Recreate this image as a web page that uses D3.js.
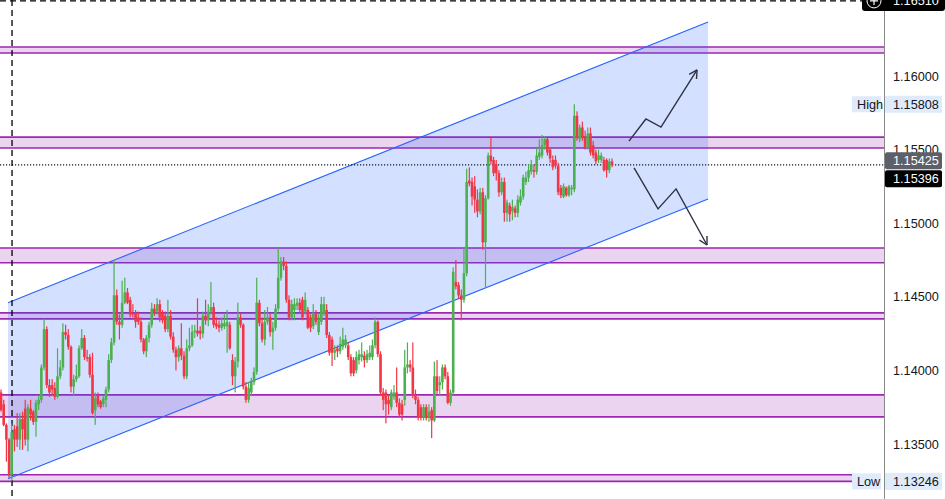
<!DOCTYPE html>
<html><head><meta charset="utf-8">
<script src="https://cdn.jsdelivr.net/npm/d3@7"></script>
<style>html,body{margin:0;padding:0;background:#fff;overflow:hidden}</style>
</head><body>
<svg id="c" width="945" height="499"></svg>
<script>
const opens = [
1.1385,1.1377,1.1363,1.1353,1.1329,1.1360,1.1362,1.1353,1.1367,1.1374,
1.1353,1.1374,1.1372,1.1365,1.1377,1.1380,1.1402,1.1428,1.1390,1.1390,
1.1388,1.1382,1.1396,1.1402,1.1426,1.1424,1.1416,1.1389,1.1394,1.1396,
1.1415,1.1422,1.1409,1.1409,1.1397,1.1373,1.1383,1.1379,1.1377,1.1380,
1.1387,1.1407,1.1419,1.1451,1.1433,1.1431,1.1446,1.1453,1.1448,1.1439,
1.1439,1.1436,1.1433,1.1421,1.1413,1.1422,1.1431,1.1442,1.1440,1.1445,
1.1439,1.1437,1.1428,1.1437,1.1423,1.1414,1.1409,1.1415,1.1410,1.1396,
1.1415,1.1417,1.1426,1.1427,1.1427,1.1425,1.1437,1.1434,1.1440,1.1443,
1.1432,1.1431,1.1429,1.1430,1.1430,1.1431,1.1407,1.1396,1.1406,1.1436,
1.1431,1.1389,1.1380,1.1385,1.1392,1.1399,1.1446,1.1432,1.1421,1.1433,
1.1436,1.1426,1.1429,1.1442,1.1463,1.1474,1.1471,1.1448,1.1436,1.1441,
1.1444,1.1446,
1.1448,1.1440,1.1441,1.1436,1.1430,1.1439,1.1426,1.1433,1.1439,1.1441,
1.1424,1.1421,1.1412,1.1415,1.1413,1.1416,1.1417,1.1417,1.1409,1.1407,
1.1400,1.1407,1.1409,1.1410,1.1407,1.1409,1.1409,1.1417,1.1433,1.1411,
1.1385,1.1385,1.1380,1.1375,1.1382,1.1385,1.1378,1.1377,1.1380,1.1402,
1.1404,1.1402,1.1383,1.1380,1.1375,1.1368,1.1375,1.1368,1.1373,1.1366,
1.1396,1.1390,1.1392,1.1402,1.1396,1.1378,1.1385,1.1460,1.1458,1.1451,
1.1448,1.1466,1.1529,1.1528,1.1525,1.1516,1.1508,1.1521,1.1487,1.1517,
1.1546,1.1543,1.1540,1.1534,1.1521,1.1528,1.1507,1.1512,1.1508,1.1510,
1.1507,1.1514,1.1518,1.1528,1.1531,1.1535,1.1536,1.1535,1.1545,1.1546,
1.1553,1.1557,1.1550,1.1543,1.1543,1.1539,1.1524,1.1518,1.1524,1.1519,
1.1523,1.1523,1.1573,1.1557,1.1565,1.1558,1.1551,1.1561,1.1553,1.1548,
1.1543,1.1543,1.1543,1.1543,1.1536,1.1542];
const highs = [
1.1387,1.1380,1.1364,1.1354,1.1364,1.1363,1.1371,1.1371,1.1372,1.1380,
1.1377,1.1380,1.1373,1.1380,1.1383,1.1404,1.1435,1.1430,1.1394,1.1394,
1.1392,1.1415,1.1407,1.1432,1.1431,1.1428,1.1417,1.1397,1.1404,1.1417,
1.1428,1.1424,1.1414,1.1411,1.1412,1.1385,1.1385,1.1380,1.1383,1.1389,
1.1411,1.1422,1.1475,1.1455,1.1438,1.1461,1.1463,1.1456,1.1450,1.1445,
1.1441,1.1440,1.1436,1.1422,1.1424,1.1433,1.1446,1.1445,1.1449,1.1448,
1.1441,1.1440,1.1448,1.1441,1.1426,1.1416,1.1417,1.1432,1.1413,1.1421,
1.1429,1.1431,1.1431,1.1449,1.1430,1.1440,1.1448,1.1445,1.1460,1.1446,
1.1436,1.1434,1.1436,1.1438,1.1441,1.1433,1.1411,1.1409,1.1446,1.1439,
1.1432,1.1392,1.1392,1.1395,1.1402,1.1463,1.1448,1.1436,1.1441,1.1443,
1.1439,1.1433,1.1445,1.1483,1.1477,1.1477,1.1474,1.1451,1.1448,1.1449,
1.1449,1.1449,
1.1450,1.1453,1.1443,1.1438,1.1445,1.1441,1.1438,1.1450,1.1450,1.1445,
1.1426,1.1423,1.1417,1.1417,1.1423,1.1429,1.1424,1.1419,1.1411,1.1409,
1.1413,1.1414,1.1419,1.1413,1.1414,1.1417,1.1421,1.1436,1.1434,1.1413,
1.1388,1.1387,1.1383,1.1387,1.1390,1.1402,1.1381,1.1380,1.1414,1.1419,
1.1407,1.1419,1.1387,1.1382,1.1377,1.1377,1.1377,1.1377,1.1375,1.1406,
1.1407,1.1396,1.1404,1.1404,1.1399,1.1387,1.1470,1.1475,1.1460,1.1455,
1.1484,1.1537,1.1538,1.1531,1.1532,1.1523,1.1524,1.1524,1.1519,1.1548,
1.1559,1.1545,1.1543,1.1536,1.1531,1.1531,1.1516,1.1514,1.1516,1.1512,
1.1519,1.1523,1.1533,1.1535,1.1540,1.1543,1.1540,1.1551,1.1557,1.1560,
1.1559,1.1558,1.1551,1.1546,1.1546,1.1541,1.1526,1.1527,1.1525,1.1526,
1.1526,1.15808,1.1576,1.1567,1.1569,1.1563,1.1565,1.1565,1.1556,1.1550,
1.1550,1.1548,1.1545,1.1544,1.1544,1.1544];
const lows = [
1.1372,1.1362,1.1338,1.1327,1.13246,1.1345,1.1348,1.1346,1.1346,1.1349,
1.1345,1.1366,1.1363,1.1355,1.1373,1.1378,1.1400,1.1388,1.1382,1.1383,
1.1380,1.1381,1.1394,1.1400,1.1421,1.1414,1.1385,1.1383,1.1392,1.1395,
1.1414,1.1407,1.1406,1.1395,1.1370,1.1363,1.1375,1.1374,1.1375,1.1375,
1.1385,1.1405,1.1417,1.1431,1.1421,1.1429,1.1445,1.1445,1.1436,1.1436,
1.1429,1.1431,1.1419,1.1411,1.1409,1.1419,1.1429,1.1437,1.1438,1.1433,
1.1432,1.1426,1.1426,1.1421,1.1412,1.1400,1.1406,1.1407,1.1394,1.1394,
1.1413,1.1416,1.1422,1.1423,1.1421,1.1422,1.1431,1.1430,1.1438,1.1429,
1.1428,1.1426,1.1427,1.1428,1.1412,1.1414,1.1390,1.1385,1.1402,1.1429,
1.1387,1.1378,1.1378,1.1383,1.1390,1.1397,1.1430,1.1419,1.1417,1.1431,
1.1423,1.1414,1.1427,1.1440,1.1461,1.1468,1.1446,1.1434,1.1434,1.1434,
1.1441,1.1439,
1.1434,1.1438,1.1428,1.1426,1.1428,1.1431,1.1424,1.1431,1.1437,1.1422,
1.1410,1.1403,1.1407,1.1409,1.1411,1.1414,1.1415,1.1407,1.1396,1.1396,
1.1398,1.1404,1.1406,1.1402,1.1405,1.1407,1.1407,1.1415,1.1409,1.1383,
1.1373,1.1364,1.1370,1.1373,1.1380,1.1375,1.1368,1.1366,1.1376,1.1398,
1.1399,1.1381,1.1377,1.1366,1.1366,1.1366,1.1366,1.1365,1.1354,1.1365,
1.1384,1.1383,1.1387,1.1394,1.1377,1.1376,1.1383,1.1455,1.1449,1.1434,
1.1446,1.1464,1.1525,1.1512,1.1507,1.1504,1.1506,1.1482,1.1456,1.1516,
1.1540,1.1532,1.1529,1.1518,1.1519,1.1501,1.1501,1.1501,1.1502,1.1504,
1.1504,1.1512,1.1516,1.1526,1.1528,1.1533,1.1531,1.1533,1.1543,1.1544,
1.1550,1.1546,1.1541,1.1536,1.1537,1.1519,1.1517,1.1517,1.1518,1.1518,
1.1519,1.1521,1.1556,1.1555,1.1556,1.1550,1.1550,1.1546,1.1544,1.1540,
1.1541,1.1541,1.1535,1.1531,1.1534,1.1538];
const closes = [
1.1373,1.1363,1.1353,1.1329,1.1358,1.1353,1.1353,1.1367,1.1360,1.1353,
1.1375,1.1370,1.1365,1.1378,1.1380,1.1402,1.1428,1.1390,1.1385,1.1387,
1.1382,1.1396,1.1402,1.1426,1.1424,1.1416,1.1389,1.1394,1.1396,1.1415,
1.1422,1.1409,1.1408,1.1397,1.1371,1.1381,1.1377,1.1375,1.1381,1.1387,
1.1407,1.1419,1.1451,1.1433,1.1431,1.1446,1.1453,1.1446,1.1438,1.1438,
1.1433,1.1433,1.1421,1.1413,1.1422,1.1431,1.1442,1.1439,1.1445,1.1436,
1.1434,1.1428,1.1437,1.1423,1.1414,1.1409,1.1415,1.1410,1.1396,1.1415,
1.1417,1.1426,1.1427,1.1425,1.1425,1.1437,1.1434,1.1440,1.1443,1.1431,
1.1430,1.1429,1.1432,1.1432,1.1433,1.1415,1.1396,1.1406,1.1436,1.1431,
1.1389,1.1380,1.1388,1.1392,1.1399,1.1446,1.1432,1.1421,1.1433,1.1436,
1.1426,1.1429,1.1442,1.1463,1.1474,1.1471,1.1448,1.1436,1.1445,1.1445,
1.1446,1.1441,
1.1436,1.1448,1.1429,1.1429,1.1439,1.1433,1.1434,1.1445,1.1445,1.1424,
1.1412,1.1412,1.1414,1.1413,1.1418,1.1421,1.1421,1.1409,1.1398,1.1398,
1.1409,1.1411,1.1411,1.1407,1.1411,1.1412,1.1417,1.1433,1.1411,1.1385,
1.1380,1.1377,1.1377,1.1385,1.1385,1.1378,1.1370,1.1370,1.1402,1.1404,
1.1402,1.1383,1.1380,1.1368,1.1368,1.1375,1.1368,1.1372,1.1366,1.1396,
1.1386,1.1392,1.1402,1.1396,1.1378,1.1385,1.1467,1.1457,1.1451,1.1448,
1.1466,1.1528,1.1527,1.1518,1.1516,1.1508,1.1521,1.1487,1.1517,1.1546,
1.1542,1.1534,1.1534,1.1521,1.1528,1.1507,1.1514,1.1506,1.1511,1.1507,
1.1516,1.1518,1.1531,1.1531,1.1536,1.1540,1.1535,1.1546,1.1548,1.1553,
1.1557,1.1548,1.1544,1.1538,1.1539,1.1521,1.1519,1.1525,1.1519,1.1525,
1.1524,1.1573,1.1558,1.1565,1.1558,1.1551,1.1561,1.1548,1.1546,1.1542,
1.1546,1.1546,1.1536,1.1536,1.1542,1.15396];

const priceTicks = [1.135, 1.14, 1.145, 1.15, 1.155, 1.16];
const zones = [[1.16197,1.16156],[1.15585,1.15511],[1.14832,1.14731],[1.14391,1.14350],[1.13834,1.13684],[1.13291,1.13246]];
const channelTop = [[2.6,1.1446],[262.7,1.16367]];
const channelBottom = [[2.6,1.13264],[262.7,1.15165]];
const arrowUp = [[233.3,1.15558],[239.6,1.15708],[245.2,1.15653],[258.6,1.16041]];
const arrowDown = [[235.2,1.15376],[244.1,1.15097],[250.8,1.15233],[262.3,1.14852]];
const sessionHigh = 1.15808, sessionLow = 1.13246;
const lastPrice = 1.15396, refPrice = 1.15425;
const cursorIndex = 4.1, cursorPrice = 1.16510;

const W = 945, H = 499, axisX = 884;
const FONT = '"Liberation Sans", Arial, sans-serif';
const svg = d3.select('#c');
const x = d3.scaleLinear().domain([0, opens.length - 1]).range([1, 612]);
const y = d3.scaleLinear().domain([1.135, 1.16]).range([444, 76]);
const fmt = d3.format('.5f');

svg.append('rect').attr('width', W).attr('height', H).attr('fill', '#fff');

// zones
const zg = svg.append('g');
zones.forEach(z => {
  const y0 = y(z[0]), y1 = y(z[1]);
  zg.append('rect').attr('x', 0).attr('y', y0).attr('width', axisX).attr('height', y1 - y0)
    .attr('fill', 'rgba(156,39,176,0.2)');
  [y0, y1].forEach(v => zg.append('line').attr('x1', 0).attr('x2', axisX).attr('y1', v).attr('y2', v)
    .attr('stroke', '#9c27b0').attr('stroke-width', 1.6));
});

// channel
const pt = d => [x(d[0]), y(d[1])];
const poly = [pt(channelTop[0]), pt(channelTop[1]), pt(channelBottom[1]), pt(channelBottom[0])];
svg.append('path').attr('d', 'M' + poly.map(p => p.join(',')).join('L') + 'Z')
  .attr('fill', 'rgba(41,98,255,0.2)');
const line = d3.line().x(d => x(d[0])).y(d => y(d[1]));
[channelTop, channelBottom].forEach(c => svg.append('path').attr('d', line(c))
  .attr('fill', 'none').attr('stroke', '#2962ff').attr('stroke-width', 1.1));

// last price dotted line
svg.append('line').attr('x1', 0).attr('x2', axisX).attr('y1', y(lastPrice)).attr('y2', y(lastPrice))
  .attr('stroke', '#131722').attr('stroke-width', 1.2).attr('stroke-dasharray', '1.2,1.8');

// crosshair
svg.append('line').attr('x1', x(cursorIndex)).attr('x2', x(cursorIndex)).attr('y1', 0).attr('y2', H)
  .attr('stroke', '#000').attr('stroke-width', 1.3).attr('stroke-dasharray', '6,4');
svg.append('line').attr('x1', 0).attr('x2', 862).attr('y1', y(cursorPrice)).attr('y2', y(cursorPrice))
  .attr('stroke', '#000').attr('stroke-width', 1.3).attr('stroke-dasharray', '6,4');

// candles
const candles = opens.map((o, i) => ({ i, o, h: highs[i], l: lows[i], c: closes[i] }));
const cg = svg.append('g');
const col = d => d.c >= d.o ? '#4caf50' : '#f23645';
cg.selectAll('.w').data(candles).join('rect')
  .attr('x', d => x(d.i) - 0.6).attr('width', 1.2)
  .attr('y', d => y(d.h)).attr('height', d => Math.max(1, y(d.l) - y(d.h)))
  .attr('fill', col);
cg.selectAll('.b').data(candles).join('rect')
  .attr('x', d => x(d.i) - 1.3).attr('width', 2.6)
  .attr('y', d => y(Math.max(d.o, d.c))).attr('height', d => Math.max(1.2, Math.abs(y(d.o) - y(d.c))))
  .attr('fill', col);

// arrows
[arrowUp, arrowDown].forEach(a => {
  svg.append('path').attr('d', line(a)).attr('fill', 'none')
    .attr('stroke', '#2f3341').attr('stroke-width', 1.4).attr('stroke-linejoin', 'miter');
  const p1 = pt(a[a.length - 2]), p2 = pt(a[a.length - 1]);
  const ang = Math.atan2(p2[1] - p1[1], p2[0] - p1[0]);
  [-0.5, 0.5].forEach(da => {
    svg.append('line').attr('x1', p2[0]).attr('y1', p2[1])
      .attr('x2', p2[0] - 9 * Math.cos(ang + da)).attr('y2', p2[1] - 9 * Math.sin(ang + da))
      .attr('stroke', '#2f3341').attr('stroke-width', 1.4);
  });
});

// axis
svg.append('rect').attr('x', axisX).attr('y', 0).attr('width', W - axisX).attr('height', H).attr('fill', '#fff');
svg.append('line').attr('x1', axisX + 0.5).attr('x2', axisX + 0.5).attr('y1', 0).attr('y2', H)
  .attr('stroke', '#8a8a8a').attr('stroke-width', 1);
const ax = svg.append('g').attr('transform', `translate(${axisX},0)`)
  .call(d3.axisRight(y).tickValues(priceTicks).tickSize(0).tickPadding(9).tickFormat(fmt));
ax.select('.domain').remove();
ax.selectAll('text').attr('font-family', FONT).attr('font-size', 12.7).attr('fill', '#131722');

function tag(val, bg, fg, yc, withName) {
  const g = svg.append('g');
  if (withName) {
    g.append('rect').attr('x', 852).attr('y', yc - 8).attr('width', 32).attr('height', 16).attr('fill', '#fff');
    g.append('rect').attr('x', 852).attr('y', yc - 8).attr('width', 29).attr('height', 16).attr('fill', bg);
    g.append('text').attr('x', 857).attr('y', yc).attr('dy', '0.35em').text(withName)
      .attr('font-family', FONT).attr('font-size', 12.7).attr('fill', fg);
  }
  g.append('rect').attr('x', axisX + 1).attr('y', yc - 8.5).attr('width', 57).attr('height', 17)
    .attr('rx', withName ? 0 : 2).attr('fill', bg);
  g.append('text').attr('x', 893).attr('y', yc).attr('dy', '0.35em').text(fmt(val))
    .attr('font-family', FONT).attr('font-size', 12.7).attr('fill', withName ? '#131722' : fg);
}
tag(sessionHigh, '#dfeafb', '#131722', y(sessionHigh), 'High');
tag(sessionLow, '#dfeafb', '#131722', y(sessionLow), 'Low');
const refY = y(refPrice);
tag(refPrice, '#5d606b', '#fff', refY, null);
tag(lastPrice, '#000', '#fff', Math.max(y(lastPrice), refY + 18), null);

// cursor price tag
const cy = y(cursorPrice);
svg.append('rect').attr('x', 862).attr('y', cy - 9).attr('width', 83).attr('height', 19).attr('rx', 3).attr('fill', '#000');
svg.append('circle').attr('cx', 874).attr('cy', cy).attr('r', 7).attr('fill', 'none').attr('stroke', '#fff').attr('stroke-width', 1);
svg.append('path').attr('d', `M870,${cy}H878M874,${cy - 4}V${cy + 4}`).attr('stroke', '#fff').attr('stroke-width', 1.2);
svg.append('text').attr('x', 893).attr('y', cy).attr('dy', '0.35em').text(fmt(cursorPrice))
  .attr('font-family', FONT).attr('font-size', 12.7).attr('fill', '#fff');
</script>
</body></html>
